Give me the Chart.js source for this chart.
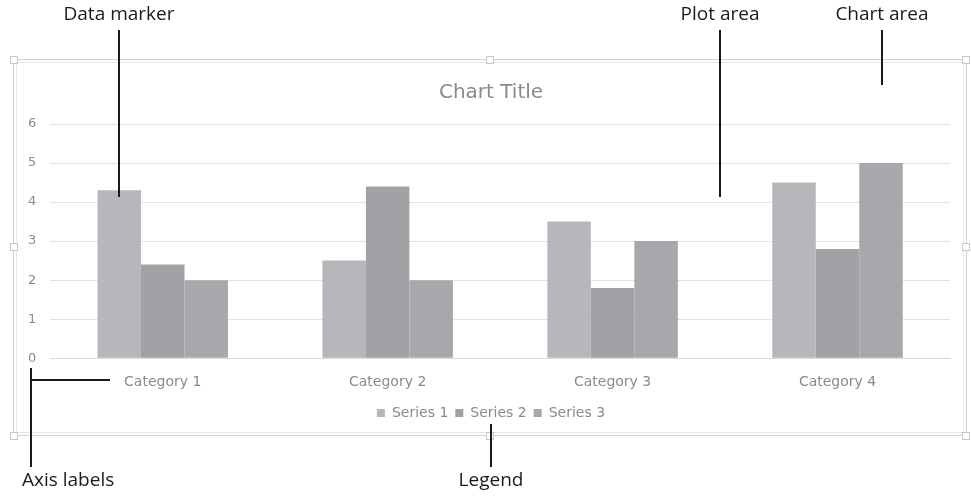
<!DOCTYPE html>
<html>
<head>
<meta charset="utf-8">
<script src="https://cdn.jsdelivr.net/npm/chart.js@4.4.1/dist/chart.umd.min.js"></script>
<style>
  html, body { margin: 0; padding: 0; background: #fff; }
  #wrap { width: 971px; height: 496px; position: relative; }
</style>
</head>
<body>
<div id="wrap"><canvas id="myBarChart"></canvas></div>
<script>
// 차트 데이터
var categories = ["Category 1", "Category 2", "Category 3", "Category 4"];
var series1 = [4.3, 2.5, 3.5, 4.5];
var series2 = [2.4, 4.4, 1.8, 2.8];
var series3 = [2, 2, 3, 5];
var seriesNames = ["Series 1", "Series 2", "Series 3"];
var seriesColors = ["#b6b7bb", "#a1a2a6", "#a7a8ac"];
var yTicks = [0, 1, 2, 3, 4, 5, 6];

var textGray = "#8a8a8a";
var chartFont = "'DejaVu Sans', Lato, sans-serif";
var noteFont = "'Open Sans', 'Noto Sans', sans-serif";

// 차트 영역 테두리 + 핸들, 설명선 그리기
var callouts = {
	id: "callouts",
	beforeDraw: function(chart) {
		var c = chart.ctx;
		c.save();
		c.fillStyle = "#fff";
		c.fillRect(0, 0, chart.width, chart.height);
		c.strokeStyle = "#d2d2d2";
		c.lineWidth = 1;
		c.strokeRect(13.5, 59.5, 953, 376);
		c.strokeStyle = "#e8e8e8";
		c.strokeRect(16.5, 62.5, 947, 370);
		// 크기 조절 핸들
		var hs = [[14, 60], [490, 60], [966, 60], [14, 247], [966, 247], [14, 436], [490, 436], [966, 436]];
		hs.forEach(function(h) {
			c.fillStyle = "#fff";
			c.fillRect(h[0] - 3.5, h[1] - 3.5, 7, 7);
			c.strokeStyle = "#c8c8c8";
			c.strokeRect(h[0] - 3.5, h[1] - 3.5, 7, 7);
		});
		c.restore();
	},
	afterDraw: function(chart) {
		var c = chart.ctx;
		c.save();
		c.strokeStyle = "#1a1a1a";
		c.lineWidth = 2;
		var lines = [
			[[119, 30], [119, 197]],
			[[720, 30], [720, 197]],
			[[882, 30], [882, 85]],
			[[31, 368], [31, 467]],
			[[31, 380], [110, 380]],
			[[491, 424], [491, 467]]
		];
		lines.forEach(function(l) {
			c.beginPath();
			c.moveTo(l[0][0], l[0][1]);
			c.lineTo(l[1][0], l[1][1]);
			c.stroke();
		});
		c.fillStyle = "#1a1a1a";
		c.font = "19px " + noteFont;
		c.textBaseline = "middle";
		c.textAlign = "center";
		c.fillText("Data marker", 119, 15);
		c.fillText("Plot area", 720, 15);
		c.fillText("Chart area", 882, 15);
		c.fillText("Legend", 491, 481);
		c.textAlign = "left";
		c.fillText("Axis labels", 22, 481);
		c.restore();
	}
};

var datasets = [series1, series2, series3].map(function(d, i) {
	return {
		label: seriesNames[i],
		data: d,
		backgroundColor: seriesColors[i],
		borderWidth: 0,
		yAxisID: "y",
		categoryPercentage: 0.58,
		barPercentage: 1.0
	};
});

var ctx = document.getElementById("myBarChart").getContext("2d");
window.myBarChart = new Chart(ctx, {
	type: "bar",
	data: { labels: categories, datasets: datasets },
	plugins: [callouts],
	options: {
		responsive: true,
		maintainAspectRatio: false,
		animation: false,
		layout: { padding: { top: 81, left: 14, right: 3, bottom: 66 } },
		plugins: {
			title: {
				display: true,
				text: "Chart Title",
				color: textGray,
				font: { family: chartFont, size: 20, weight: "normal" },
				padding: { top: 0, bottom: 19 }
			},
			legend: {
				position: "bottom",
				labels: {
					color: textGray,
					font: { family: chartFont, size: 14 },
					boxWidth: 8,
					boxHeight: 8,
					padding: 7
				}
			},
			tooltip: { enabled: false }
		},
		scales: {
			x: {
				grid: { display: false },
				border: { color: "#d9d9d9" },
				ticks: { color: textGray, font: { family: chartFont, size: 14 }, padding: 8 }
			},
			y: {
				min: 0,
				max: 6,
				afterBuildTicks: function(axis) {
					axis.ticks = yTicks.map(function(v) { return { value: v }; });
				},
				grid: { color: "#e3e3e3", drawTicks: false },
				border: { display: false },
				ticks: { color: textGray, font: { family: chartFont, size: 13 }, padding: 14 }
			},
			// 오른쪽 빈 축 (제목/범례 가운데 맞춤용 여백)
			y2: {
				position: "right",
				min: 0,
				max: 6,
				grid: { display: false },
				border: { display: false },
				ticks: { display: false },
				afterFit: function(axis) {
					axis.width = 18;
				}
			}
		}
	}
});
</script>
</body>
</html>
